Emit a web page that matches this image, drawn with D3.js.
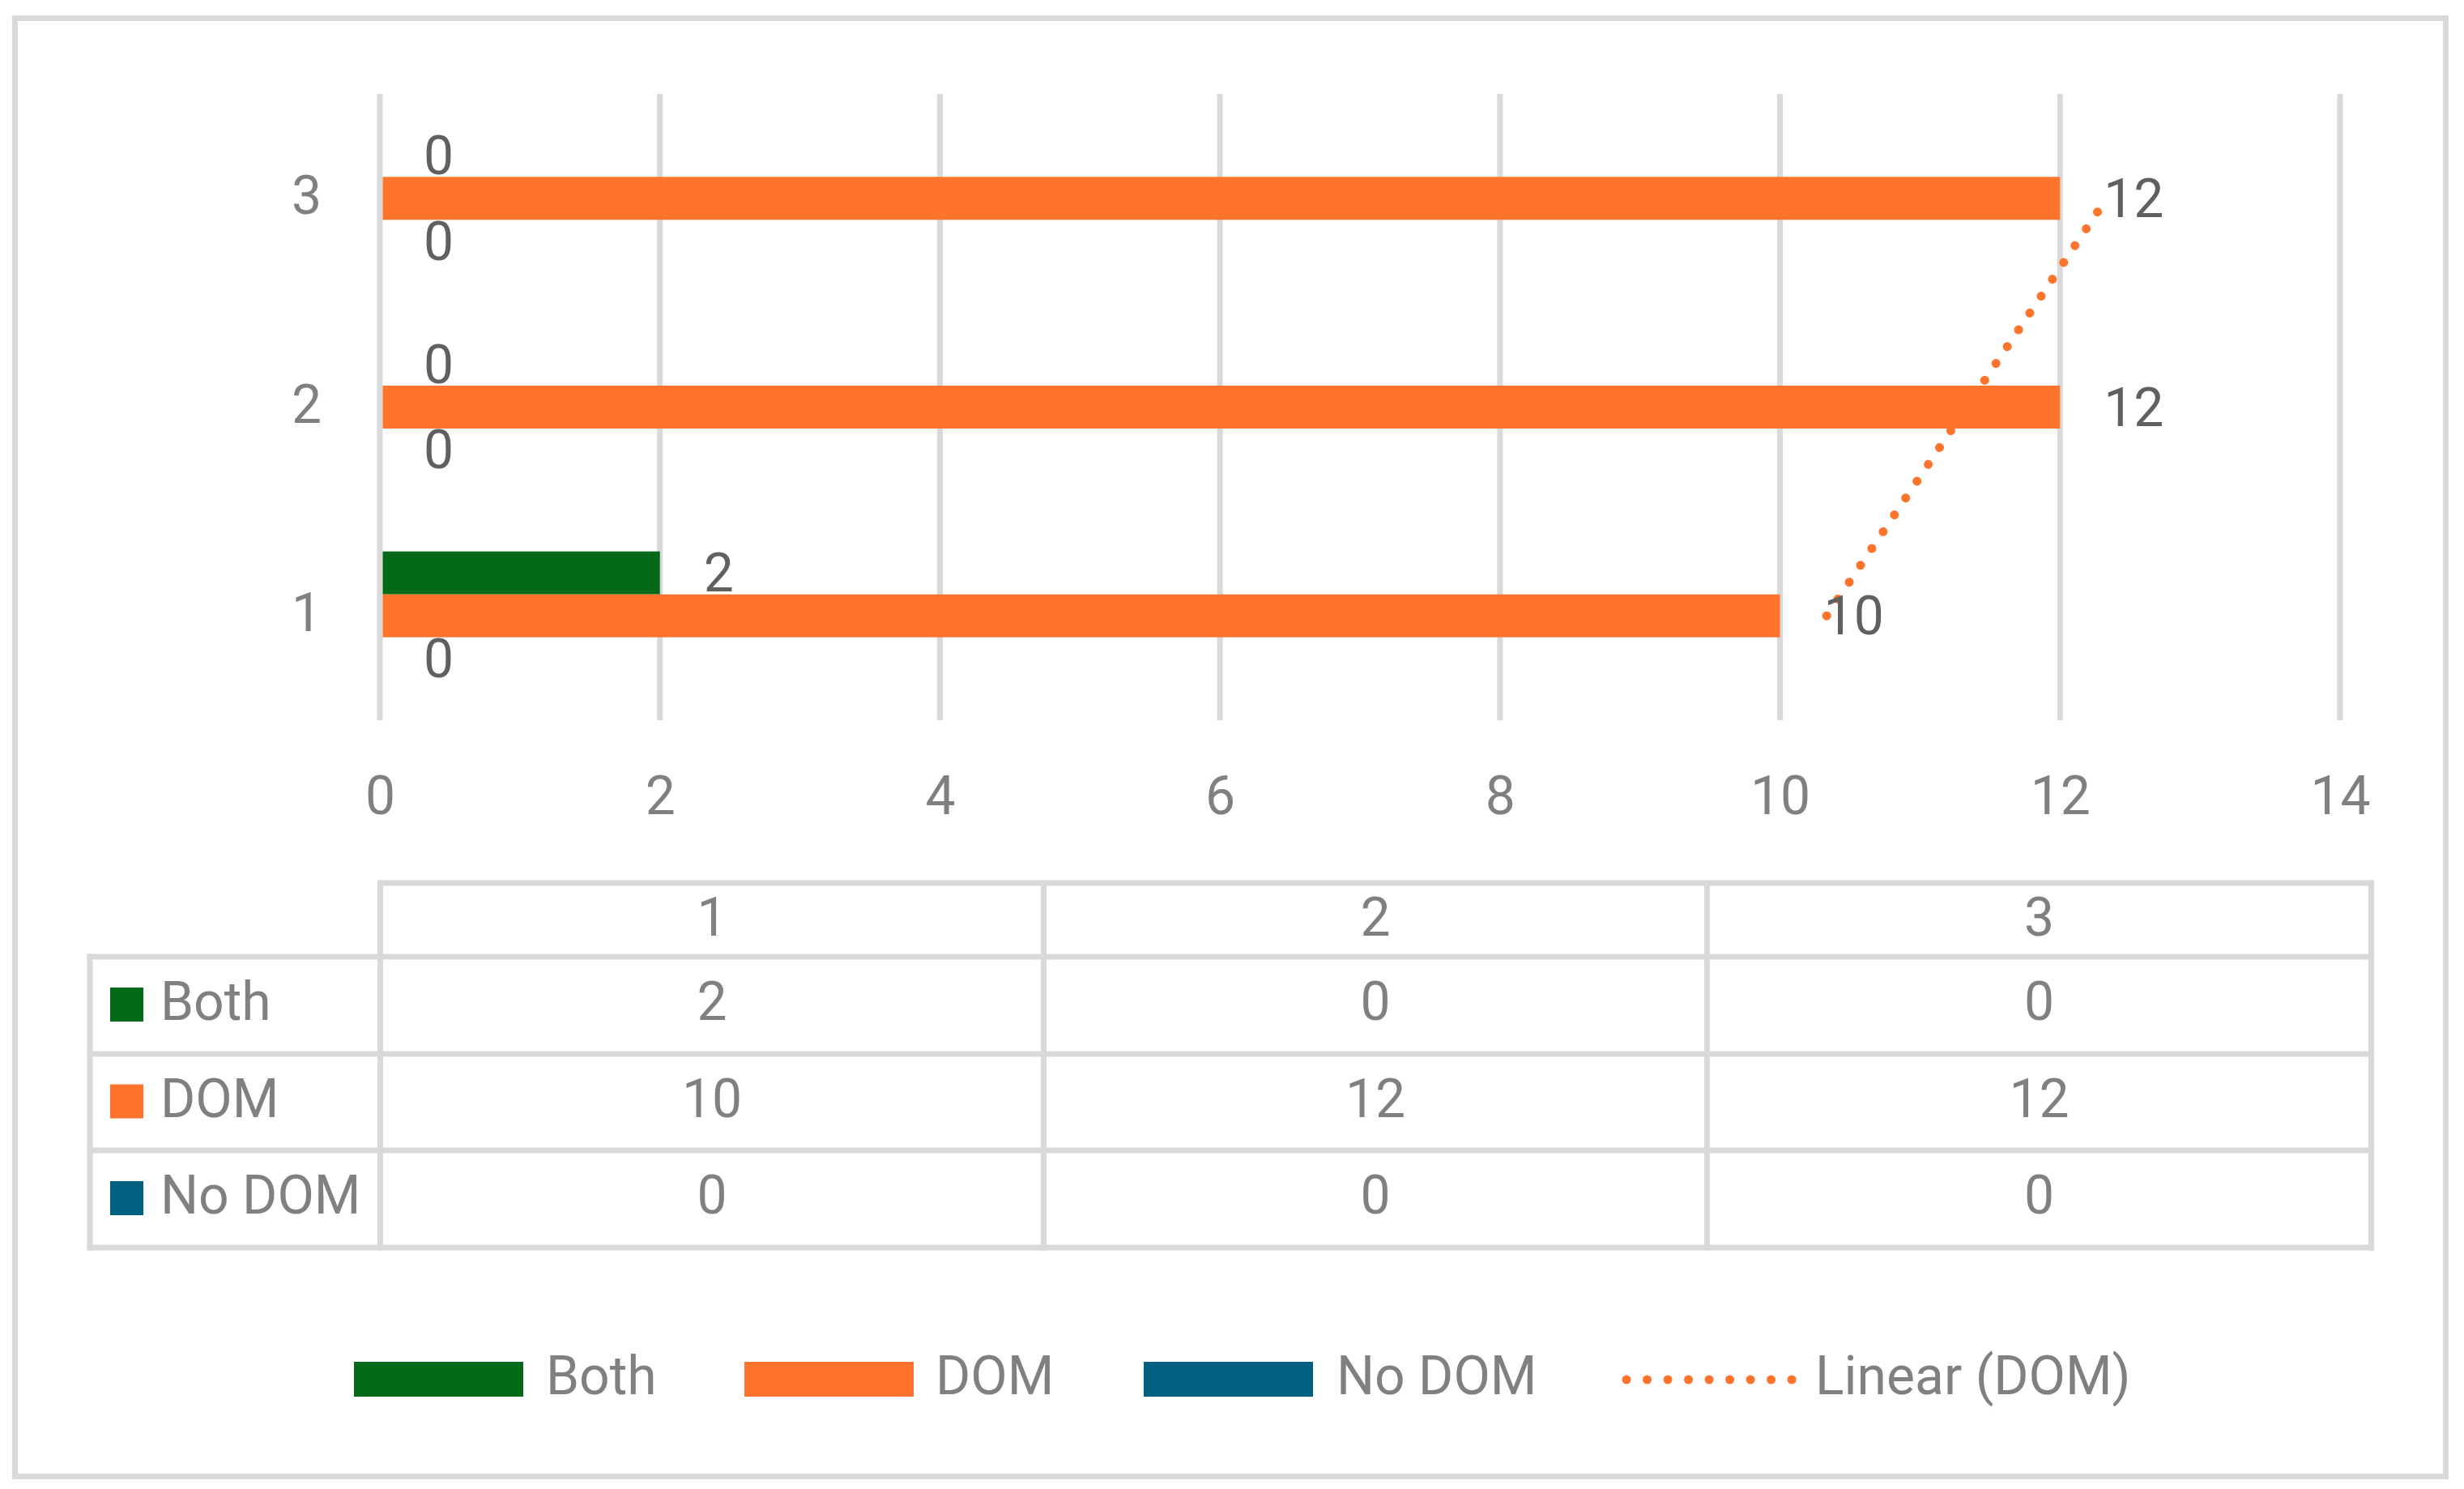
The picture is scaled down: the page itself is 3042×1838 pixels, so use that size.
<!DOCTYPE html>
<html>
<head>
<meta charset="utf-8">
<script src="https://cdn.jsdelivr.net/npm/d3@7"></script>
<style>
  html, body { margin: 0; padding: 0; background: #ffffff; }
  svg { display: block; }
  text { font-family: Roboto, "Liberation Sans", Arial, sans-serif; }
</style>
</head>
<body>
<svg id="chart" width="3042" height="1838"></svg>
<script>
// ---- data ----
const categories = ["1", "2", "3"];
const seriesNames = ["Both", "DOM", "No DOM"];
const bothValues = [2, 0, 0];
const domValues = [10, 12, 12];
const noDomValues = [0, 0, 0];
const xTicks = [0, 2, 4, 6, 8, 10, 12, 14];
const seriesColors = ["#036A19", "#FE742C", "#015F80"];
const trendName = "Linear (DOM)";

const seriesValues = [bothValues, domValues, noDomValues];

// ---- layout ----
const W = 3042, H = 1838;
const svg = d3.select("#chart");
const gridColor = "#D9D9D9";
const axisText = "#808080";
const labelText = "#606060";
const fontSize = 66;

// outer border
svg.append("rect")
  .attr("x", 18.5).attr("y", 22.5)
  .attr("width", 3001).attr("height", 1800)
  .attr("fill", "#fff").attr("stroke", gridColor).attr("stroke-width", 7);

const plotTop = 116, plotBottom = 889;
const x = d3.scaleLinear().domain([0, 14]).range([469, 2889]);
const p = 0.383;
const y = d3.scaleBand().domain(categories.slice().reverse())
  .range([plotTop, plotBottom]).paddingInner(p).paddingOuter(p / 2);
const ySub = d3.scaleBand().domain(seriesNames).range([0, y.bandwidth()]);

// gridlines
svg.append("g").selectAll("line").data(xTicks).join("line")
  .attr("x1", d => x(d)).attr("x2", d => x(d))
  .attr("y1", plotTop).attr("y2", plotBottom)
  .attr("stroke", gridColor).attr("stroke-width", 7);

// x axis labels
const xAxis = d3.axisBottom(x).tickValues(xTicks).tickSize(0).tickPadding(0);
const gx = svg.append("g").call(xAxis);
gx.select(".domain").remove();
gx.selectAll("text")
  .attr("y", 1005).attr("dy", null)
  .attr("fill", axisText).attr("font-size", fontSize)
  .attr("font-family", 'Roboto, "Liberation Sans", Arial, sans-serif')
  .attr("text-anchor", "middle");

// y axis labels
const yAxis = d3.axisLeft(y).tickSize(0).tickPadding(0);
const gy = svg.append("g").call(yAxis);
gy.select(".domain").remove();
gy.selectAll(".tick").attr("transform", d => `translate(0,${y(d) + y.bandwidth() / 2})`);
gy.selectAll("text")
  .attr("x", 397).attr("y", 19).attr("dy", null)
  .attr("fill", axisText).attr("font-size", fontSize)
  .attr("font-family", 'Roboto, "Liberation Sans", Arial, sans-serif')
  .attr("text-anchor", "end");

// trendline (linear regression of DOM over category index)
const xs = categories.map((c, i) => i + 1);
const mx = d3.mean(xs), my = d3.mean(domValues);
const slope = d3.sum(xs.map((v, i) => (v - mx) * (domValues[i] - my))) / d3.sum(xs.map(v => (v - mx) ** 2));
const intercept = my - slope * mx;
const trendPts = [xs[0], xs[xs.length - 1]].map(k => ({
  vx: intercept + slope * k,
  cat: categories[k - 1]
}));
svg.append("path")
  .datum(trendPts)
  .attr("d", d3.line().x(d => x(d.vx)).y(d => y(d.cat) + y.bandwidth() / 2))
  .attr("fill", "none").attr("stroke", seriesColors[1])
  .attr("stroke-width", 11).attr("stroke-linecap", "round")
  .attr("stroke-dasharray", "0.01 25");

// bars
const barData = [];
categories.forEach((c, ci) => {
  seriesNames.forEach((s, si) => {
    barData.push({ cat: c, series: s, value: seriesValues[si][ci], color: seriesColors[si] });
  });
});
svg.append("g").selectAll("rect").data(barData).join("rect")
  .attr("x", x(0) + 3.5)
  .attr("y", d => y(d.cat) + ySub(d.series))
  .attr("width", d => Math.max(0, x(d.value) - x(0) - 3.5))
  .attr("height", ySub.bandwidth())
  .attr("fill", d => d.color);

// data labels
svg.append("g").selectAll("text").data(barData).join("text")
  .attr("x", d => x(d.value) + 54)
  .attr("y", d => y(d.cat) + ySub(d.series) + ySub.bandwidth() / 2 + 23)
  .attr("fill", labelText).attr("font-size", fontSize)
  .text(d => d.value);

// ---- data table ----
const colX = [469.5, 1288.5, 2107.5, 2927.5];
const rowY = [1090, 1181, 1301, 1420, 1540];
const tableLeft = 111;
const tg = svg.append("g");
const lineAttr = sel => sel.attr("stroke", gridColor).attr("stroke-width", 7).attr("stroke-linecap", "square");
lineAttr(tg.append("line").attr("x1", colX[0]).attr("x2", colX[3]).attr("y1", rowY[0]).attr("y2", rowY[0]));
rowY.slice(1).forEach(ry => lineAttr(tg.append("line").attr("x1", tableLeft).attr("x2", colX[3]).attr("y1", ry).attr("y2", ry)));
colX.forEach(cx => lineAttr(tg.append("line").attr("x1", cx).attr("x2", cx).attr("y1", rowY[0]).attr("y2", rowY[4])));
lineAttr(tg.append("line").attr("x1", tableLeft).attr("x2", tableLeft).attr("y1", rowY[1]).attr("y2", rowY[4]));

categories.forEach((c, i) => {
  tg.append("text")
    .attr("x", (colX[i] + colX[i + 1]) / 2)
    .attr("y", (rowY[0] + rowY[1]) / 2 + 19)
    .attr("text-anchor", "middle").attr("fill", axisText).attr("font-size", fontSize)
    .text(c);
});
seriesNames.forEach((s, si) => {
  const cy = (rowY[si + 1] + rowY[si + 2]) / 2;
  tg.append("rect").attr("x", 136).attr("y", cy - 22).attr("width", 41).attr("height", 42)
    .attr("fill", seriesColors[si]);
  tg.append("text").attr("x", 198).attr("y", cy + 18)
    .attr("fill", axisText).attr("font-size", fontSize).text(s);
  categories.forEach((c, ci) => {
    tg.append("text")
      .attr("x", (colX[ci] + colX[ci + 1]) / 2)
      .attr("y", cy + 18)
      .attr("text-anchor", "middle").attr("fill", axisText).attr("font-size", fontSize)
      .text(seriesValues[si][ci]);
  });
});

// ---- legend ----
const lg = svg.append("g");
const legendItems = [
  { name: seriesNames[0], color: seriesColors[0], x: 437, tx: 674, type: "rect" },
  { name: seriesNames[1], color: seriesColors[1], x: 919, tx: 1155, type: "rect" },
  { name: seriesNames[2], color: seriesColors[2], x: 1412, tx: 1650, type: "rect" },
  { name: trendName, color: seriesColors[1], x: 2008, tx: 2241, type: "line" }
];
legendItems.forEach(it => {
  if (it.type === "rect") {
    lg.append("rect").attr("x", it.x).attr("y", 1681).attr("width", 209).attr("height", 43).attr("fill", it.color);
  } else {
    lg.append("line").attr("x1", it.x).attr("x2", it.x + 205).attr("y1", 1703).attr("y2", 1703)
      .attr("stroke", it.color).attr("stroke-width", 11).attr("stroke-linecap", "round")
      .attr("stroke-dasharray", "0.01 25.5");
  }
  lg.append("text").attr("x", it.tx).attr("y", 1721)
    .attr("fill", axisText).attr("font-size", fontSize).text(it.name);
});
</script>
</body>
</html>
